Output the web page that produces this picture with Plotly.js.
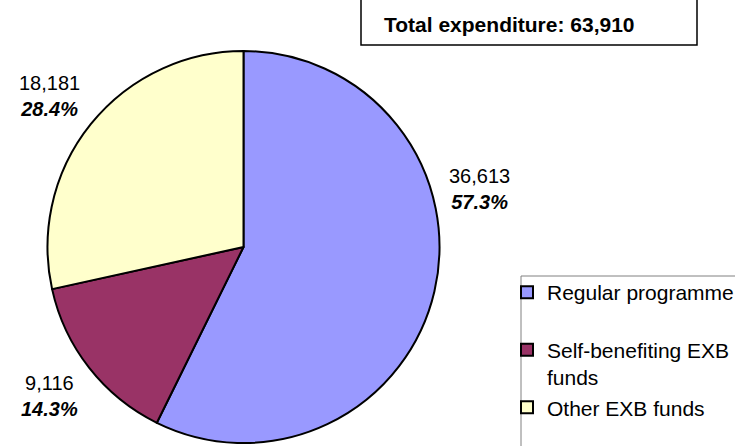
<!DOCTYPE html>
<html>
<head>
<meta charset="utf-8">
<script src="https://cdn.plot.ly/plotly-3.0.1.min.js"></script>
<style>html,body{margin:0;padding:0;background:#fff;}#chart{width:735px;height:446px;}</style>
</head>
<body>
<div id="chart"></div>
<script>
// ---- data ----
const categories = ['Regular programme', 'Self-benefiting EXB funds', 'Other EXB funds'];
const legendLabels = ['Regular programme<br>&nbsp;', 'Self-benefiting EXB<br>funds', 'Other EXB funds'];
const values = [36613, 9116, 18181];
const titleText = 'Total expenditure: 63,910';

// ---- styles / layout config ----
const colors = ['#9999FF', '#993366', '#FFFFCC'];
const W = 735, H = 446;
const FONT = 'Liberation Sans, Arial, sans-serif';
const px = x => x / W;
const py = y => 1 - y / H;
const labelPos = [[480, 189], [49, 396], [49, 96]]; // label centres (pixels)

const total = values.reduce((a, b) => a + b, 0);
const fmt = v => v.toLocaleString('en-US');

const annotations = values.map((v, i) => ({
  xref: 'paper', yref: 'paper',
  x: px(labelPos[i][0]), y: py(labelPos[i][1]),
  xanchor: 'center', yanchor: 'middle',
  text: fmt(v) + '<br><b><i>' + (100 * v / total).toFixed(1) + '%</i></b>',
  showarrow: false, align: 'center',
  font: {family: FONT, size: 20, color: '#000'}
}));
annotations.push({
  xref: 'paper', yref: 'paper', x: px(382), y: py(24),
  xanchor: 'left', yanchor: 'middle', showarrow: false,
  text: '<b>' + titleText + '</b>',
  font: {family: FONT, size: 21, color: '#000'}
});

const trace = {
  type: 'pie',
  labels: legendLabels,
  values: values,
  sort: false,
  direction: 'clockwise',
  rotation: 0,
  textinfo: 'none',
  hoverinfo: 'label+value+percent',
  marker: {colors: colors, line: {color: '#000000', width: 2}},
  domain: {x: [px(47.5), px(439.5)], y: [py(443), py(51)]}
};

const layout = {
  width: W, height: H,
  margin: {l: 0, r: 0, t: 0, b: 0, autoexpand: false},
  paper_bgcolor: '#ffffff',
  showlegend: true,
  legend: {
    x: px(507), y: py(272), xanchor: 'left', yanchor: 'top',
    bgcolor: 'rgba(0,0,0,0)', borderwidth: 0,
    valign: 'top', traceorder: 'normal',
    font: {family: FONT, size: 21, color: '#000'}
  },
  shapes: [
    {type: 'rect', xref: 'paper', yref: 'paper', x0: px(361), x1: px(697), y0: py(45), y1: py(-10),
     line: {color: '#000', width: 1.5}, fillcolor: 'rgba(0,0,0,0)'},
    {type: 'rect', xref: 'paper', yref: 'paper', x0: px(521), x1: px(780), y0: py(480), y1: py(276),
     line: {color: '#808080', width: 1}, fillcolor: 'rgba(0,0,0,0)'}
  ],
  annotations: annotations
};

Plotly.newPlot('chart', [trace], layout, {displayModeBar: false, staticPlot: true});
</script>
</body>
</html>
